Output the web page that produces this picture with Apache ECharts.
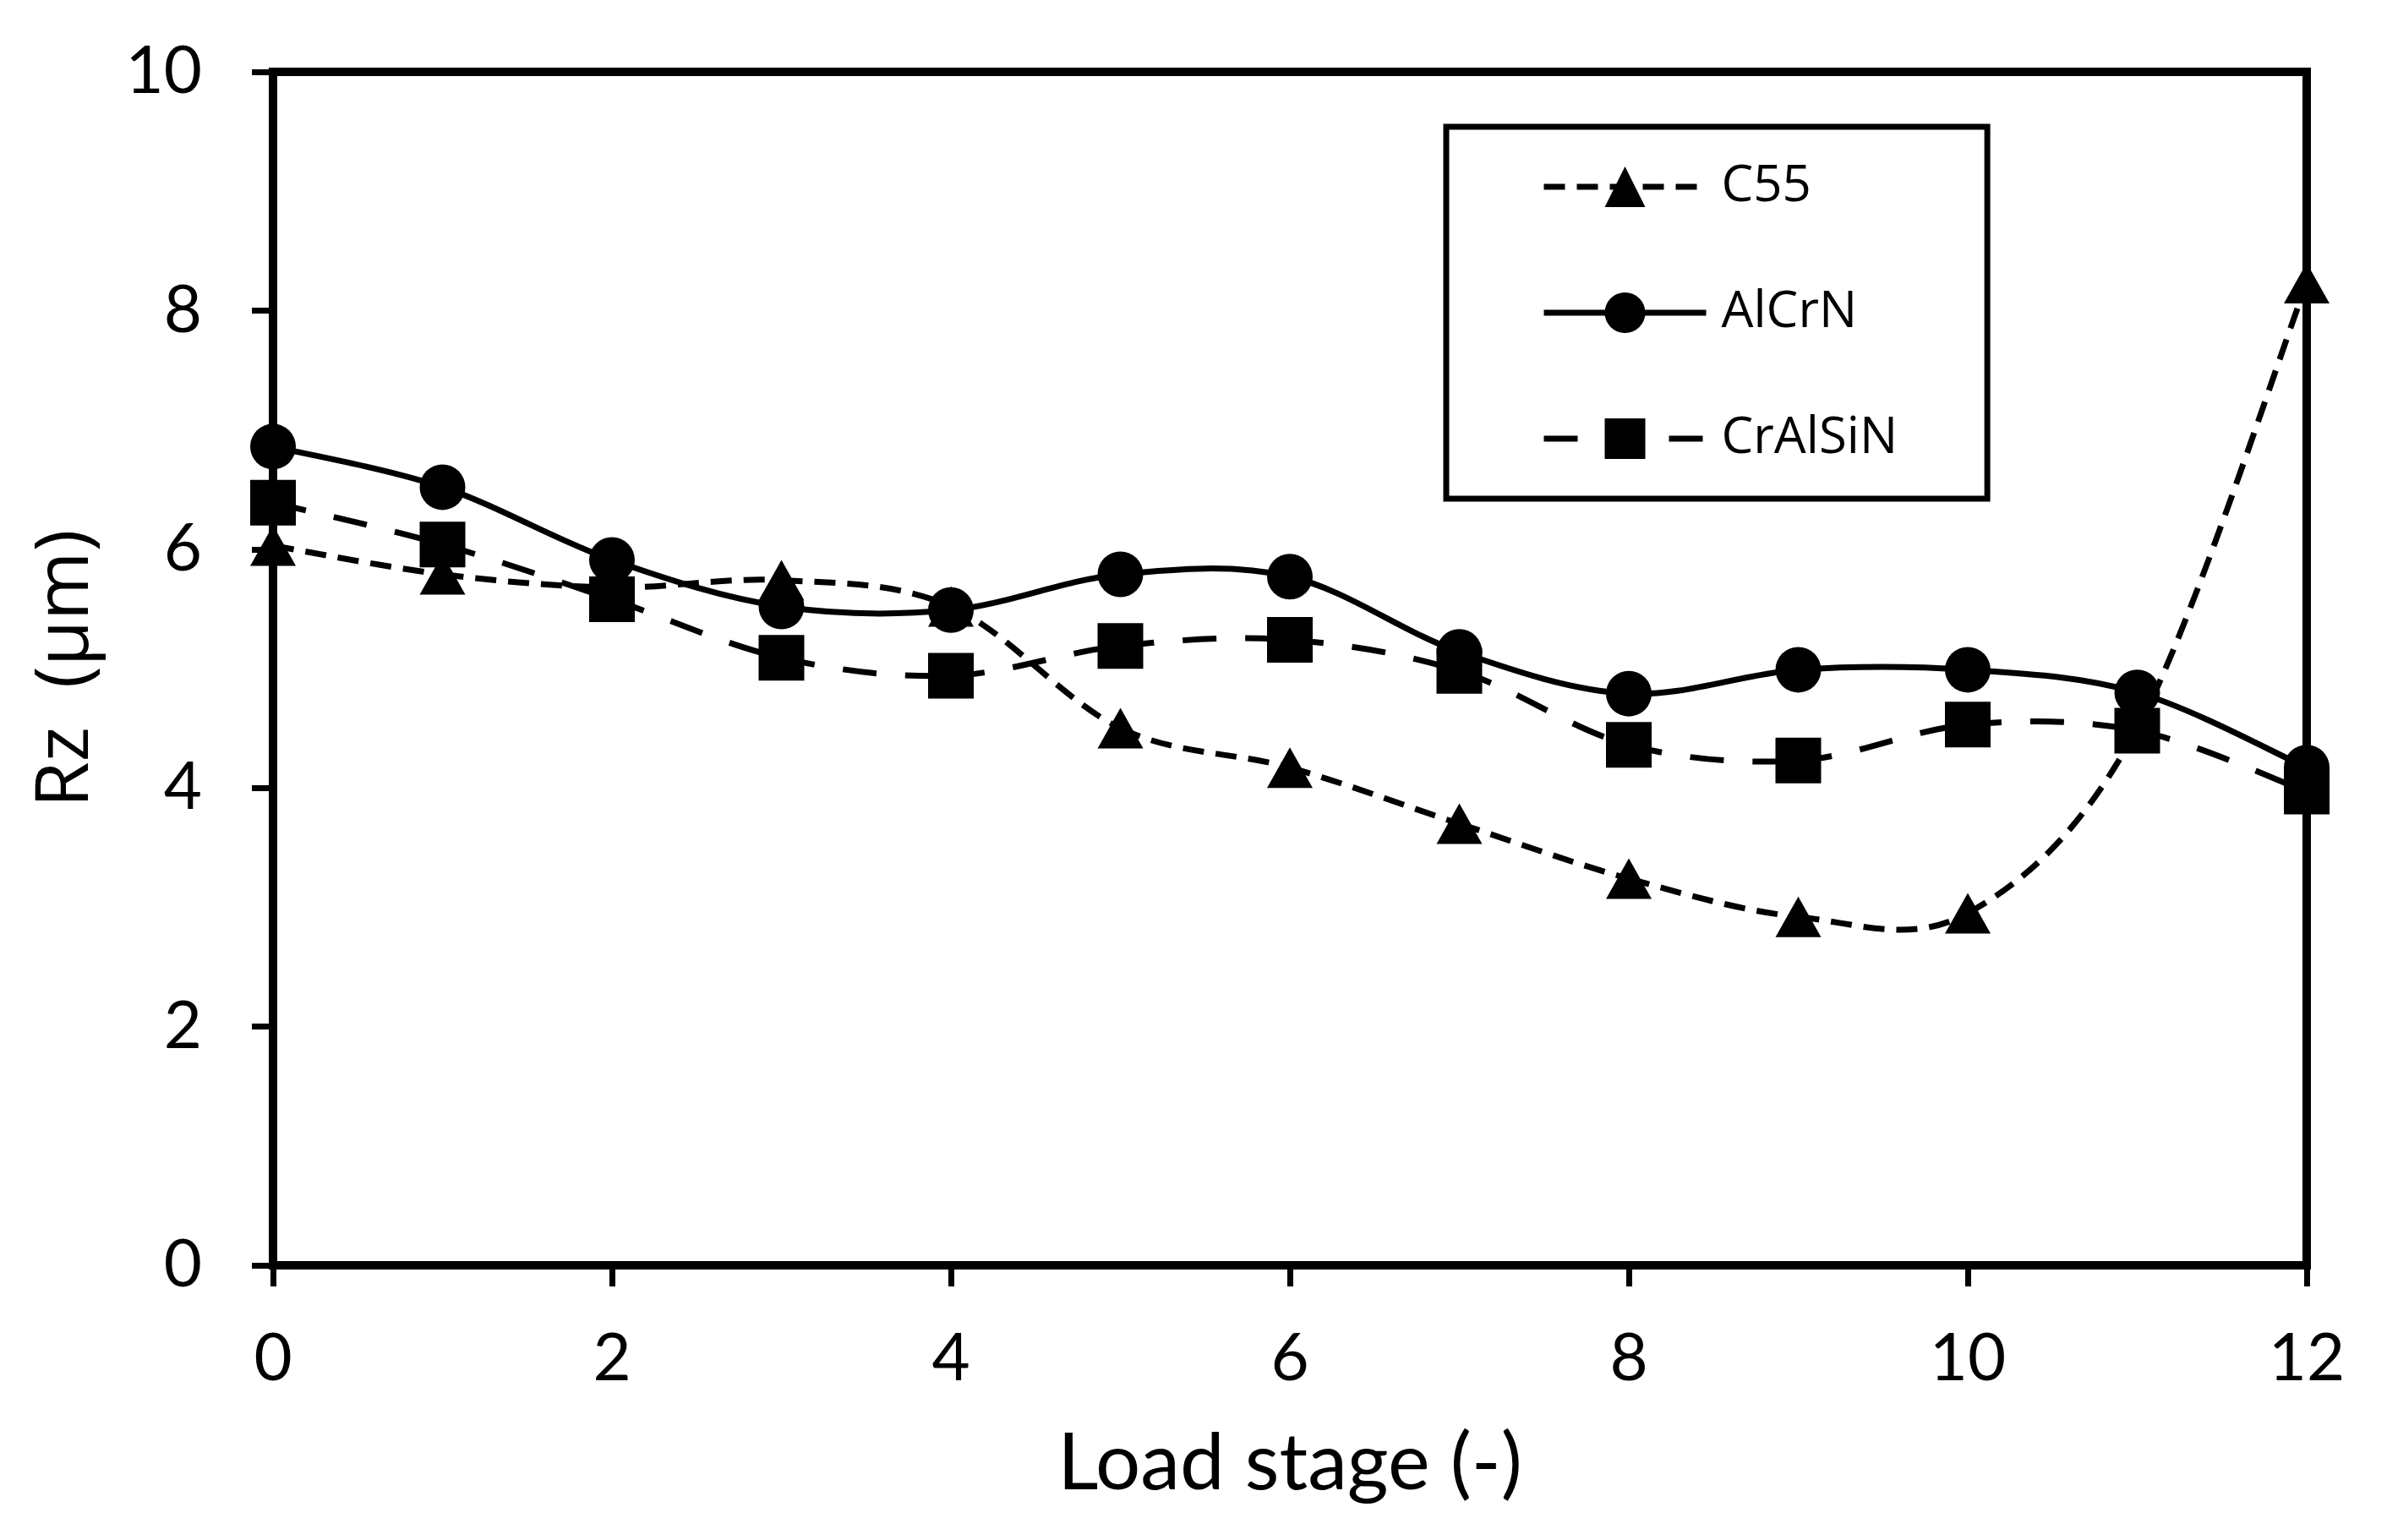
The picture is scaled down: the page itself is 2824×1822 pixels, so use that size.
<!DOCTYPE html>
<html>
<head>
<meta charset="utf-8">
<script src="https://cdn.jsdelivr.net/npm/echarts@6/dist/echarts.min.js"></script>
<style>
html,body{margin:0;padding:0;background:#fff;}
#chart{width:2824px;height:1822px;}
</style>
</head>
<body>
<div id="chart"></div>
<script>
const stages = [0, 1, 2, 3, 4, 5, 6, 7, 8, 9, 10, 11, 12];
const c55 = [6.03, 5.79, 5.68, 5.74, 5.52, 4.50, 4.17, 3.70, 3.24, 2.92, 2.95, 4.50, 8.23];
const alcrn = [6.86, 6.52, 5.91, 5.52, 5.49, 5.79, 5.77, 5.14, 4.79, 4.99, 4.99, 4.80, 4.17];
const cralsin = [6.39, 6.04, 5.58, 5.09, 4.94, 5.19, 5.24, 4.98, 4.36, 4.23, 4.53, 4.48, 3.97];
const seriesNames = ['C55', 'AlCrN', 'CrAlSiN'];
const xTitle = 'Load stage (-)';
const yTitle = 'Rz  (µm)';

const pair = (ys) => stages.map((x, i) => [x, ys[i]]);
const dashC55 = [25, 14];
const dashCrAlSiN = [40, 34];

// Excel-like smoothed curve (Catmull-Rom -> cubic Bezier) built through the axes' own coord mapping
function curveSeries(ys, dash) {
  return {
    type: 'custom', name: '_curve', silent: true, z: 1,
    data: [[stages[0], ys[0]]],
    encode: {x: 0, y: 1},
    renderItem: function (params, api) {
      const pts = stages.map((x, i) => api.coord([x, ys[i]]));
      const n = pts.length;
      const children = [];
      for (let i = 0; i < n - 1; i++) {
        const p0 = pts[Math.max(i - 1, 0)], p1 = pts[i], p2 = pts[i + 1], p3 = pts[Math.min(i + 2, n - 1)];
        children.push({
          type: 'bezierCurve',
          shape: {
            x1: p1[0], y1: p1[1], x2: p2[0], y2: p2[1],
            cpx1: p1[0] + (p2[0] - p0[0]) / 6, cpy1: p1[1] + (p2[1] - p0[1]) / 6,
            cpx2: p2[0] - (p3[0] - p1[0]) / 6, cpy2: p2[1] - (p3[1] - p1[1]) / 6
          },
          style: {stroke: '#000', fill: null, lineWidth: 7, lineDash: dash}
        });
      }
      return {type: 'group', children: children};
    }
  };
}

function markerSeries(name, ys, symbol, size) {
  return {
    name: name, type: 'line', data: pair(ys), z: 3,
    symbol: symbol, symbolSize: size, showAllSymbol: true,
    itemStyle: {color: '#000'},
    lineStyle: {color: '#000', width: 0, opacity: 0}
  };
}

const chart = echarts.init(document.getElementById('chart'));
chart.setOption({
  backgroundColor: '#fff',
  animation: false,
  grid: {left: 323, right: 95, top: 85, bottom: 325, show: true, borderColor: '#000', borderWidth: 10, backgroundColor: 'transparent'},
  legend: {
    orient: 'vertical', left: 1711, top: 150,
    padding: [41, 106, 41, 112],
    borderColor: '#000', borderWidth: 7,
    itemWidth: 192, itemHeight: 60, itemGap: 89,
    textStyle: {fontFamily: 'Open Sans', fontSize: 60, color: '#000', padding: [0, 0, 0, 13]},
    data: [
      {name: seriesNames[0], lineStyle: {opacity: 1, width: 7, color: '#000', type: dashC55}},
      {name: seriesNames[1], lineStyle: {opacity: 1, width: 7, color: '#000', type: 'solid'}},
      {name: seriesNames[2], lineStyle: {opacity: 1, width: 7, color: '#000', type: dashCrAlSiN}}
    ]
  },
  xAxis: {
    type: 'value', min: 0, max: 12, interval: 2,
    name: xTitle, nameLocation: 'middle', nameGap: 188,
    nameTextStyle: {fontFamily: 'Lato', fontSize: 94, color: '#000'},
    axisLine: {lineStyle: {color: '#000', width: 10}},
    axisTick: {show: true, inside: false, length: 25, lineStyle: {color: '#000', width: 7}},
    axisLabel: {fontFamily: 'Lato', fontSize: 78, color: '#000', margin: 72},
    splitLine: {show: false}
  },
  yAxis: {
    type: 'value', min: 0, max: 10, interval: 2,
    name: yTitle, nameLocation: 'middle', nameGap: 200,
    nameTextStyle: {fontFamily: 'Open Sans', fontSize: 88, color: '#000'},
    axisLine: {show: true, lineStyle: {color: '#000', width: 10}},
    axisTick: {show: true, inside: false, length: 25, lineStyle: {color: '#000', width: 7}},
    axisLabel: {fontFamily: 'Lato', fontSize: 78, color: '#000', margin: 84},
    splitLine: {show: false}
  },
  series: [
    curveSeries(c55, dashC55),
    curveSeries(alcrn, null),
    curveSeries(cralsin, dashCrAlSiN),
    markerSeries(seriesNames[0], c55, 'triangle', [54, 48]),
    markerSeries(seriesNames[1], alcrn, 'circle', 54),
    markerSeries(seriesNames[2], cralsin, 'rect', 54)
  ]
});
</script>
</body>
</html>
